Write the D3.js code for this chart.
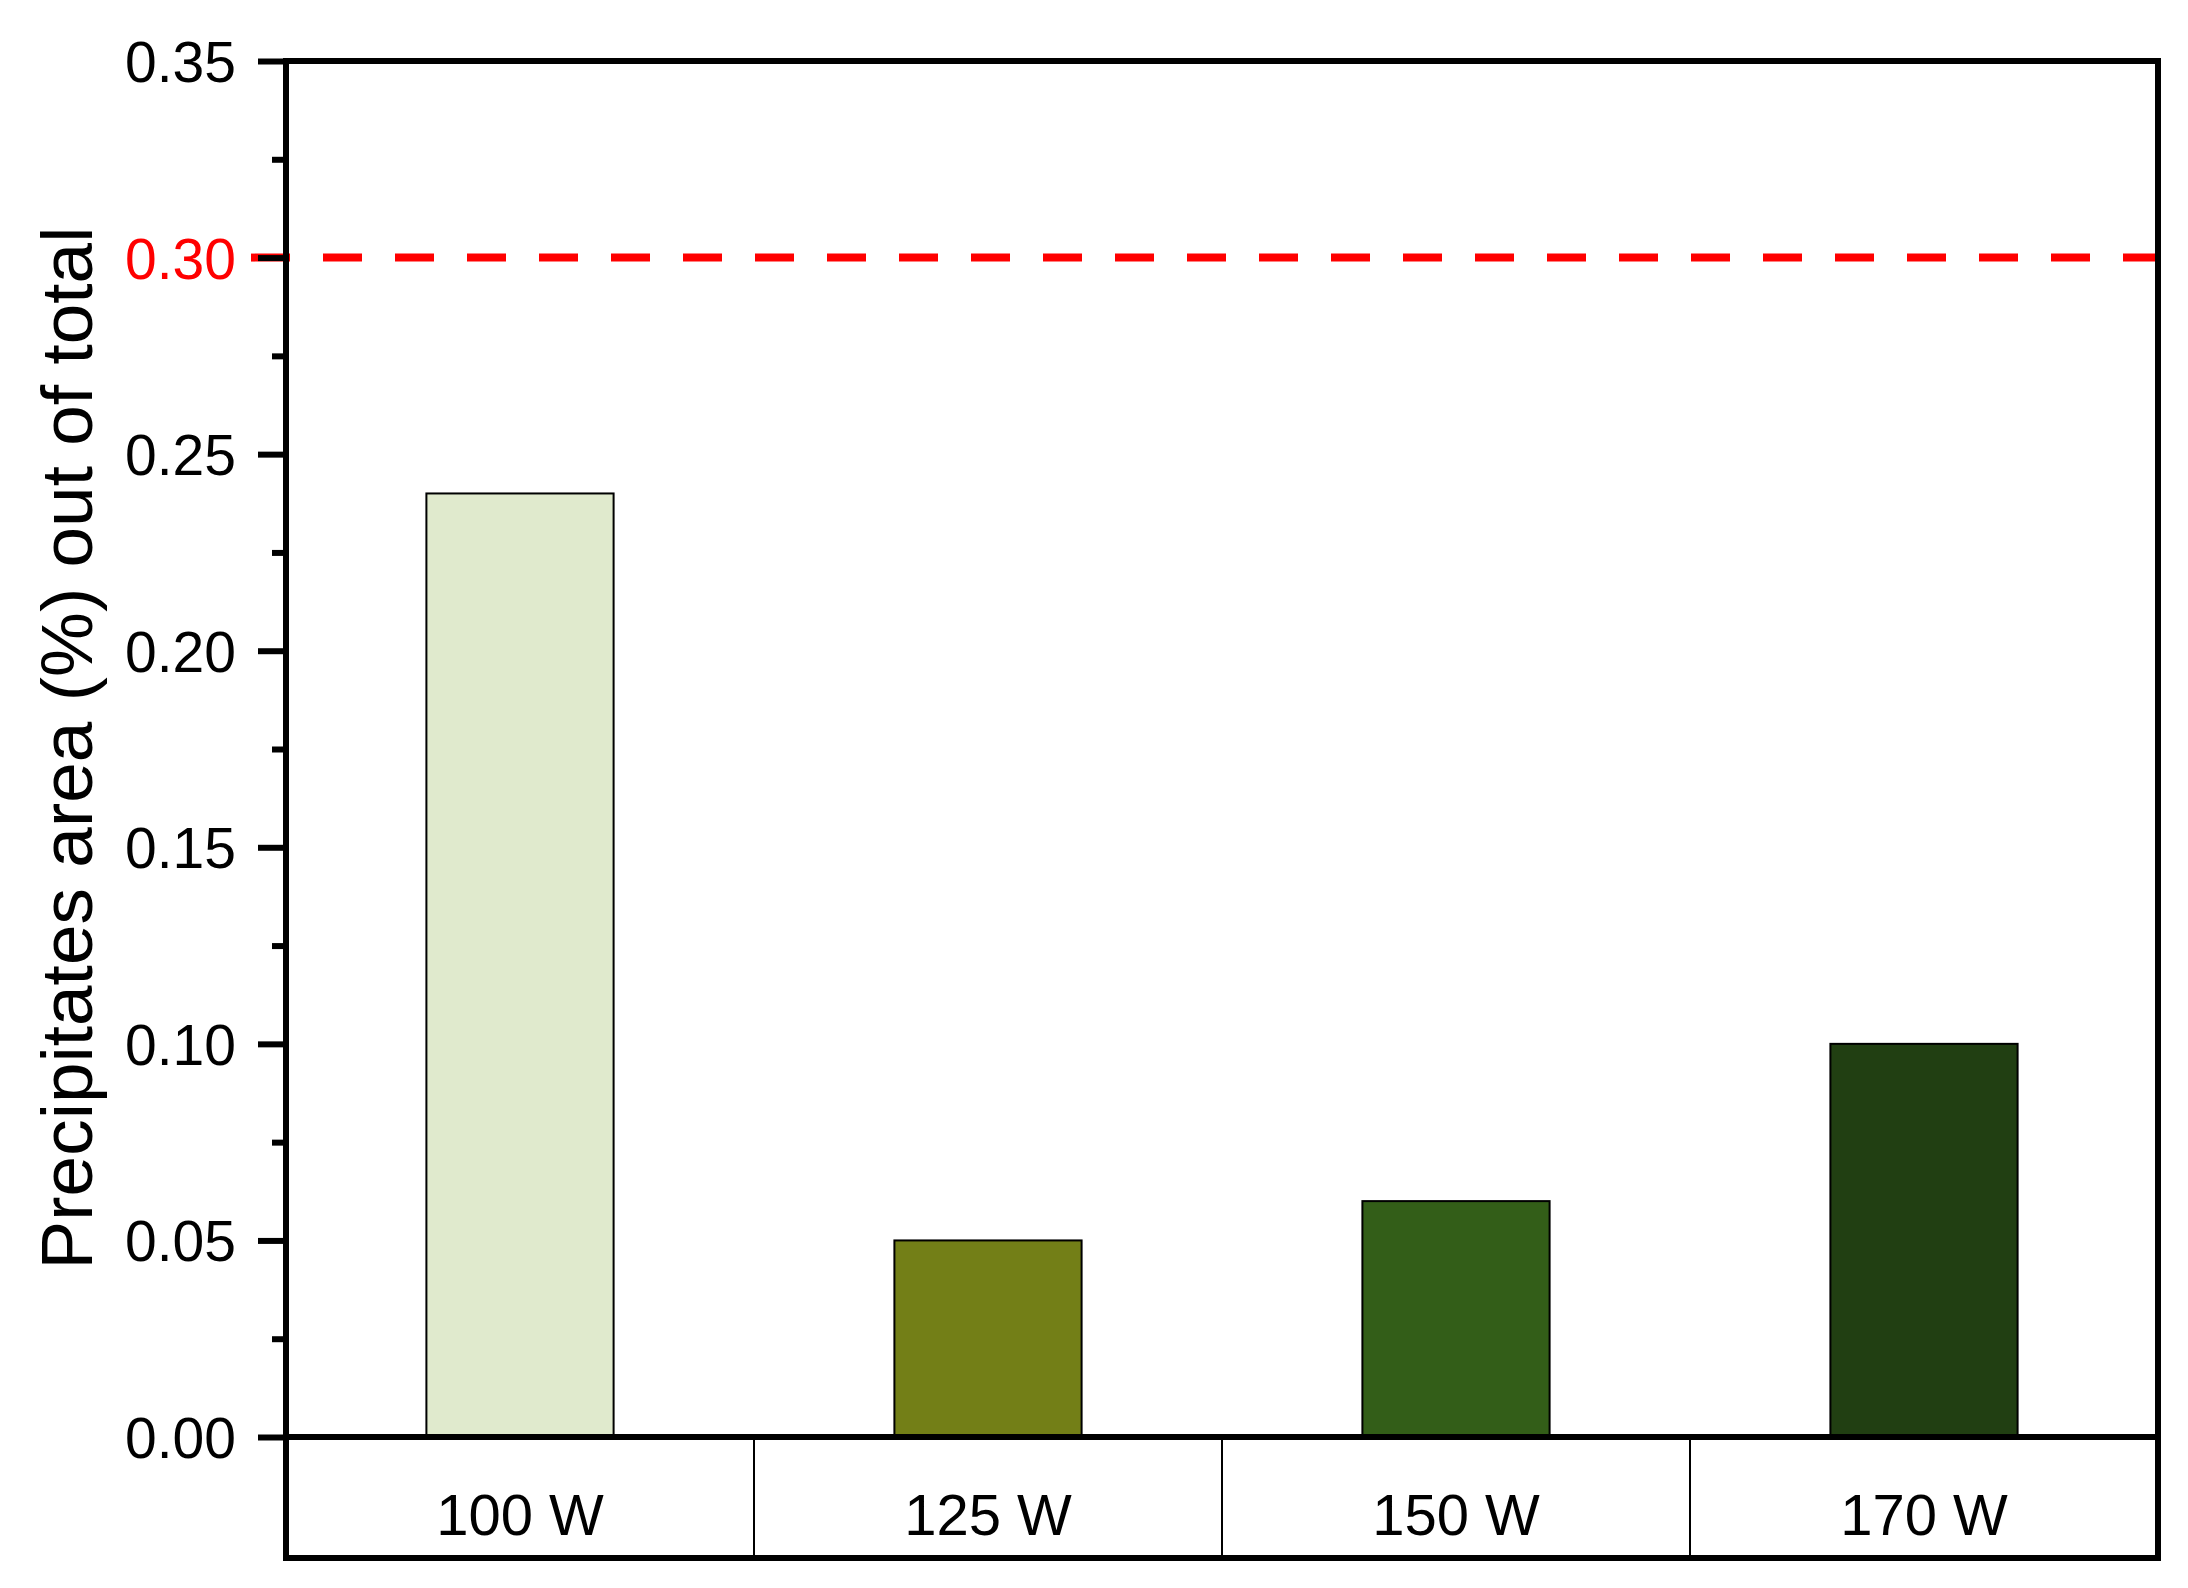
<!DOCTYPE html>
<html>
<head>
<meta charset="utf-8">
<script src="https://cdn.jsdelivr.net/npm/d3@7"></script>
<style>
  body { margin: 0; background: #fff; }
  text { font-family: "Liberation Sans", Arial, sans-serif; }
</style>
</head>
<body>
<div id="container"></div>
<script>
// data
var categories = ["100 W", "125 W", "150 W", "170 W"];
var values = [0.24, 0.05, 0.06, 0.10];
var barColors = ["#e0eacd", "#737f17", "#335e18", "#213f12"];
var yTicks = [0, 0.05, 0.1, 0.15, 0.2, 0.25, 0.3, 0.35];
var yMinorTicks = [0.025, 0.075, 0.125, 0.175, 0.225, 0.275, 0.325];
var limitValue = 0.3;

// set the dimensions and margins of the graph
var margin = { top: 61, right: 30, bottom: 151, left: 286 },
  width = 2188 - margin.left - margin.right,
  height = 1588 - margin.top - margin.bottom,
  tableHeight = 121;

// append the svg object to the body of the page
var svg = d3
  .select("#container")
  .append("svg")
  .attr("width", 2188)
  .attr("height", 1588)
  .append("g")
  .attr("transform", "translate(" + margin.left + "," + margin.top + ")");

// scales
var x = d3
  .scaleBand()
  .domain(categories)
  .range([0, width])
  .paddingInner(0.6)
  .paddingOuter(0.3);

var xCell = d3.scaleBand().domain(categories).range([0, width]).padding(0);

var y = d3.scaleLinear().domain([0, 0.35]).range([height, 0]);

// bars
svg
  .selectAll(".bar")
  .data(values)
  .enter()
  .append("rect")
  .attr("class", "bar")
  .attr("x", function (d, i) { return x(categories[i]); })
  .attr("y", function (d) { return y(d); })
  .attr("width", x.bandwidth())
  .attr("height", function (d) { return y(0) - y(d); })
  .attr("fill", function (d, i) { return barColors[i]; })
  .attr("stroke", "#000")
  .attr("stroke-width", 2);

// red limit line
svg
  .append("line")
  .attr("x1", -35)
  .attr("x2", width - 3)
  .attr("y1", y(limitValue))
  .attr("y2", y(limitValue))
  .attr("stroke", "#ff0000")
  .attr("stroke-width", 8)
  .attr("stroke-dasharray", "39,33");

// minor ticks
var minorAxis = svg
  .append("g")
  .call(d3.axisLeft(y).tickValues(yMinorTicks).tickSize(14).tickFormat(""));
minorAxis.select(".domain").remove();
minorAxis.selectAll("line").attr("stroke-width", 6);

// Add Y axis
var yAxis = svg
  .append("g")
  .call(
    d3
      .axisLeft(y)
      .tickValues(yTicks)
      .tickSizeInner(28)
      .tickSizeOuter(0)
      .tickPadding(22)
      .tickFormat(d3.format(".2f"))
  );
yAxis.select(".domain").remove();
yAxis.selectAll("line").attr("stroke-width", 6);
yAxis
  .selectAll("text")
  .attr("font-size", 57)
  .attr("font-family", '"Liberation Sans", Arial, sans-serif')
  .attr("dy", "0.36em")
  .attr("fill", function (d) {
    return Math.abs(d - limitValue) < 1e-9 ? "#ff0000" : "#000";
  });

// table cell dividers under the plot
svg
  .selectAll(".divider")
  .data(categories.slice(1))
  .enter()
  .append("line")
  .attr("class", "divider")
  .attr("x1", function (d) { return xCell(d); })
  .attr("x2", function (d) { return xCell(d); })
  .attr("y1", height)
  .attr("y2", height + tableHeight)
  .attr("stroke", "#000")
  .attr("stroke-width", 2);

// category labels in the table
svg
  .selectAll(".cat")
  .data(categories)
  .enter()
  .append("text")
  .attr("class", "cat")
  .attr("x", function (d) { return x(d) + x.bandwidth() / 2; })
  .attr("y", height + 98)
  .attr("text-anchor", "middle")
  .attr("font-size", 58)
  .text(function (d) { return d; });

// frame: plot box, baseline and table box
var frame = svg.append("g").attr("fill", "none").attr("stroke", "#000").attr("stroke-width", 6);
frame
  .append("rect")
  .attr("x", 0)
  .attr("y", 0)
  .attr("width", width)
  .attr("height", height + tableHeight);
frame
  .append("line")
  .attr("x1", 0)
  .attr("x2", width)
  .attr("y1", y(0))
  .attr("y2", y(0));

// Add y-axis label
svg
  .append("text")
  .attr("text-anchor", "middle")
  .attr("transform", "rotate(-90)")
  .attr("x", -(748 - margin.top))
  .attr("y", 92 - margin.left)
  .attr("font-size", 73)
  .text("Precipitates area (%) out of total");
</script>
</body>
</html>
